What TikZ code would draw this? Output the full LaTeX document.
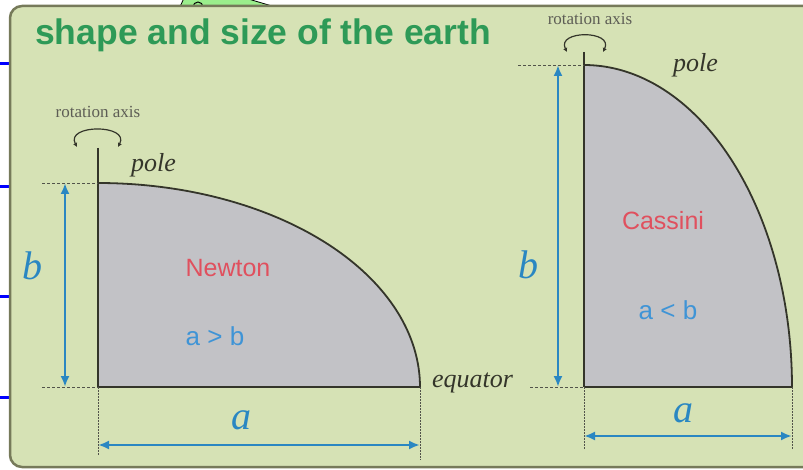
\documentclass[tikz,border=0pt]{standalone}
\usepackage{fontspec}
\setmainfont{Liberation Serif}
\setsansfont{Liberation Sans}
\usetikzlibrary{arrows.meta}
\definecolor{panelfill}{HTML}{D6E2B5}
\definecolor{panelbord}{HTML}{767A5A}
\definecolor{titlegreen}{HTML}{2E9A57}
\definecolor{dimblue}{HTML}{2A87C2}
\definecolor{namered}{HTML}{E0505E}
\definecolor{earthgray}{HTML}{C2C2C6}
\definecolor{inkdark}{HTML}{34352A}
\definecolor{relblue}{HTML}{3F94D6}
\definecolor{blobgreen}{HTML}{9BEE8C}
\begin{document}
\begin{tikzpicture}[x=1pt,y=-1pt,
 dimarrow/.style={draw=dimblue,line width=2.2pt,{Latex[length=11pt,width=9pt]}-{Latex[length=11pt,width=9pt]}},
 guide/.style={draw=inkdark!85,line width=0.9pt,dash pattern=on 3pt off 2pt},
 dotguide/.style={draw=inkdark!85,line width=0.9pt,dash pattern=on 1.5pt off 1.5pt},
 axisline/.style={draw=inkdark,line width=1.6pt},
 outline/.style={draw=inkdark,line width=1.8pt},
 earth/.style={fill=earthgray},
 rotarrow/.style={draw=inkdark,line width=1.2pt,{Latex[length=4pt,width=4.5pt]}-{Latex[length=4pt,width=4.5pt]}},
 smalllabel/.style={font=\fontsize{17}{17}\selectfont,text=inkdark!80},
 italiclabel/.style={font=\fontsize{26}{26}\selectfont\itshape,text=inkdark,inner sep=0pt},
 dimletter/.style={font=\fontsize{40}{40}\selectfont\itshape,text=dimblue},
 namelabel/.style={font=\sffamily\fontsize{25}{25}\selectfont,text=namered},
 rellabel/.style={font=\sffamily\fontsize{26}{26}\selectfont,text=relblue},
 panel/.style={fill=panelfill,draw=panelbord,line width=2.5pt,rounded corners=12pt},
 artifact/.style={draw=blue,line width=3pt},
]
\useasboundingbox (0,0) rectangle (803,470);
% stray marks outside the panel
\foreach \yy in {63.5,187,297,397} \draw[artifact] (0,\yy) -- (10,\yy);
\filldraw[fill=blobgreen,draw=black,line width=0.8pt] (179,9) -- (184,-2) -- (245,-2) -- (282,9) -- cycle;
\draw[black,line width=1pt] (198,7) circle (5);
% panel
\draw[panel] (10,6) rectangle (820,467);
\node[anchor=base west,font=\sffamily\bfseries\fontsize{35.5}{36}\selectfont,text=titlegreen,inner sep=0pt] (title) at (35,45) {shape and size of the earth};

% ---------- Newton ----------
\coordinate (nO) at (98,387);
\coordinate (nP) at (98,183);
\coordinate (nE) at (420,387);
\coordinate (nTop) at (98,148);
\fill[earth] (nO) -- plot[domain=0:90,samples=90] ({98+322*sin(\x)},{387-204*cos(\x)}) -- cycle;
\draw[outline] plot[domain=0:90,samples=90] ({98+322*sin(\x)},{387-204*cos(\x)}) -- (nO);
\draw[axisline] (nTop) -- (nO);
\coordinate (nrL) at (77,147);
\coordinate (nrR) at (118,147);
\draw[rotarrow] (nrL) .. controls (65,124) and (130,124) .. (nrR);
\node[smalllabel] (nrot) at (98,112) {rotation axis};
\node[italiclabel,anchor=base west] (npole) at (131,172) {pole};
\coordinate (nPL) at (42,183);
\coordinate (nOL) at (42,387);
\draw[guide] (nPL) -- (nP);
\draw[guide] (nOL) -- (nO);
\coordinate (nbT) at (65,183);
\coordinate (nbB) at (65,387);
\draw[dimarrow] (nbT) -- (nbB);
\node[dimletter] (nb) at (33,266) {b};
\node[namelabel] (newton) at (228,268) {Newton};
\node[rellabel] (nrel) at (215,336) {a > b};
\coordinate (nOD) at (98,455);
\coordinate (nED) at (420,460);
\draw[dotguide] (nO) -- (nOD);
\draw[dotguide] (nE) -- (nED);
\coordinate (naL) at (98,445);
\coordinate (naR) at (420,445);
\draw[dimarrow] (naL) -- (naR);
\node[dimletter] (na) at (241,420) {a};
\node[italiclabel,anchor=base west] (equator) at (432,387) {equator};

% ---------- Cassini ----------
\coordinate (cO) at (584,387);
\coordinate (cP) at (584,65);
\coordinate (cE) at (792,387);
\coordinate (cTop) at (584,52);
\fill[earth] (cO) -- plot[domain=0:90,samples=90] ({584+208*sin(\x)},{387-322*cos(\x)}) -- cycle;
\draw[outline] plot[domain=0:90,samples=90] ({584+208*sin(\x)},{387-322*cos(\x)}) -- (cO);
\draw[axisline] (cTop) -- (cO);
\coordinate (crL) at (567,52);
\coordinate (crR) at (603,52);
\draw[rotarrow] (crL) .. controls (556,30) and (614,30) .. (crR);
\node[smalllabel] (crot) at (590,19) {rotation axis};
\node[italiclabel,anchor=base west] (cpole) at (673,72) {pole};
\coordinate (cPL) at (518,65);
\coordinate (cOL) at (530,387);
\draw[guide] (cPL) -- (cP);
\draw[guide] (cOL) -- (cO);
\coordinate (cbT) at (558,65);
\coordinate (cbB) at (558,387);
\draw[dimarrow] (cbT) -- (cbB);
\node[dimletter] (cb) at (528,265) {b};
\node[namelabel] (cassini) at (663,221) {Cassini};
\node[rellabel] (crel) at (668,310) {a < b};
\coordinate (cOD) at (584,450);
\coordinate (cED) at (792,450);
\draw[dotguide] (cO) -- (cOD);
\draw[dotguide] (cE) -- (cED);
\coordinate (caL) at (584,436);
\coordinate (caR) at (792,436);
\draw[dimarrow] (caL) -- (caR);
\node[dimletter] (ca) at (683,413) {a};
\end{tikzpicture}
\end{document}
